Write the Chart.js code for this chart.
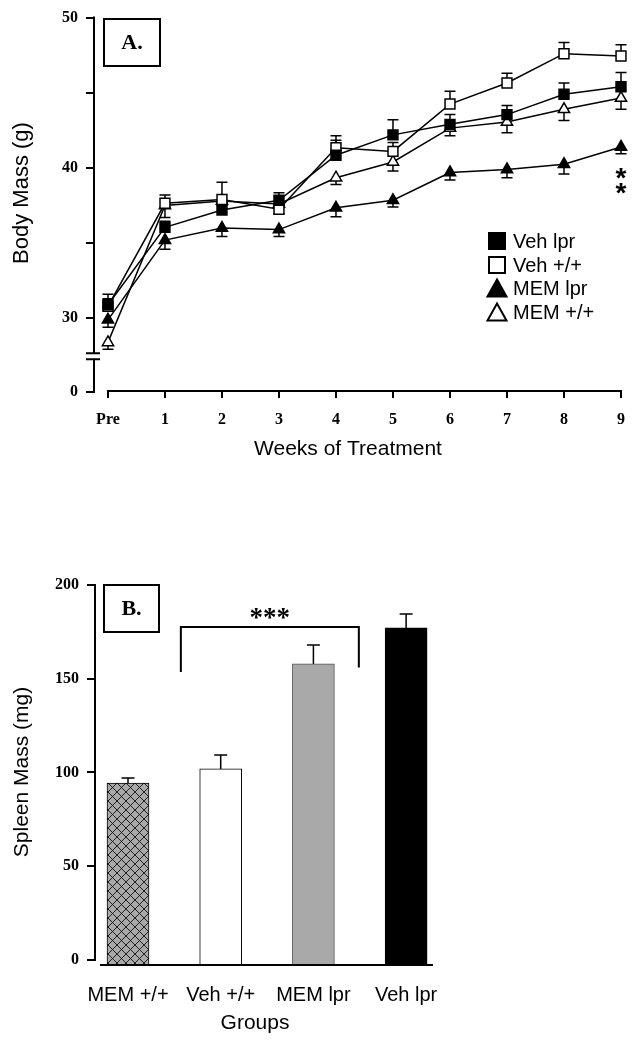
<!DOCTYPE html>
<html><head><meta charset="utf-8">
<script src="https://cdn.jsdelivr.net/npm/chart.js@4.4.0/dist/chart.umd.min.js"></script>
<style>
html,body{margin:0;padding:0;background:#fff;}
body{width:637px;height:1046px;position:relative;overflow:hidden;}
#wA{position:absolute;left:0;top:0;width:637px;height:470px;}
#wB{position:absolute;left:0;top:540px;width:637px;height:506px;}
canvas{display:block;}
</style></head><body>
<div id="wA"><canvas id="cA" width="637" height="470"></canvas></div>
<div id="wB"><canvas id="cB" width="637" height="506"></canvas></div>
<script>
// ---------- Panel A data ----------
const weeks = ["Pre","1","2","3","4","5","6","7","8","9"];
const seriesNames = ["Veh lpr","Veh +/+","MEM lpr","MEM +/+"];
const vehLpr    = [30.9, 36.05, 37.2, 37.85, 40.85, 42.2, 42.9, 43.55, 44.9, 45.4];
const vehLprErr = [0.7, 0.4, 0.5, 0.5, 1.0, 1.0, 0.65, 0.6, 0.75, 0.95];
const vehWt     = [30.8, 37.65, 37.9, 37.25, 41.35, 41.1, 44.25, 45.65, 47.6, 47.45];
const vehWtErr  = [0.5, 0.55, 1.15, 0.4, 0.8, 0.6, 0.85, 0.65, 0.75, 0.75];
const memLpr    = [29.9, 35.2, 36.0, 35.9, 37.35, 37.85, 39.7, 39.9, 40.25, 41.4];
const memLprErr = [0.5, 0.6, 0.55, 0.45, 0.6, 0.45, 0.5, 0.55, 0.65, 0.45];
const memWt     = [28.4, 37.5, 37.8, 37.6, 39.35, 40.4, 42.65, 43.05, 43.9, 44.65];
const memWtErr  = [0.45, 0.8, 0.3, 0.65, 0.45, 0.6, 0.5, 0.7, 0.75, 0.75];
const yTicksA = [30, 35, 40, 45, 50];
const yLabeledA = [30, 40, 50];

// ---------- Panel B data ----------
const groups = ["MEM +/+","Veh +/+","MEM lpr","Veh lpr"];
const spleen = [94.4, 101.9, 157.9, 177.1];
const spleenErr = [2.7, 7.4, 10.1, 7.4];
const yTicksB = [0, 50, 100, 150, 200];

const SERIF = '"Liberation Serif", "Times New Roman", serif';
const SANS = '"Liberation Sans", Arial, sans-serif';

// axis-break geometry (style constants)
const yMinA = 25.1, breakHi = 27.68, breakLo = 27.28;

function pts(arr){ return arr.map((v,i)=>({x:i, y:v})); }

const dsStyle = (filled, shape, r) => ({
  pointStyle: shape, pointRadius: r, pointHoverRadius: r,
  pointBackgroundColor: filled ? '#000' : '#fff',
  pointBorderColor: '#000', pointBorderWidth: 1.5,
  borderColor: '#000', backgroundColor: '#000', borderWidth: 1.5,
  tension: 0, clip: false
});

const errBarsA = {
  id: 'errBarsA',
  beforeDatasetsDraw(chart){
    const ctx = chart.ctx, xs = chart.scales.x, ys = chart.scales.y;
    ctx.save(); ctx.strokeStyle = '#000'; ctx.lineWidth = 1.5;
    chart.data.datasets.forEach(ds => {
      ds.data.forEach((p, i) => {
        const x = xs.getPixelForValue(p.x);
        const y0 = ys.getPixelForValue(p.y);
        const y1 = ys.getPixelForValue(p.y + ds.errDir * ds.err[i]);
        ctx.beginPath(); ctx.moveTo(x, y0); ctx.lineTo(x, y1);
        ctx.moveTo(x - 5.5, y1); ctx.lineTo(x + 5.5, y1); ctx.stroke();
      });
    });
    ctx.restore();
  }
};

function drawMarker(ctx, shape, filled, x, y, s){
  ctx.beginPath();
  if (shape === 'rect') { ctx.rect(x - s/2, y - s/2, s, s); }
  else { const h = s*0.9; ctx.moveTo(x, y - h/2); ctx.lineTo(x + s/2, y + h/2); ctx.lineTo(x - s/2, y + h/2); ctx.closePath(); }
  ctx.fillStyle = filled ? '#000' : '#fff'; ctx.fill();
  ctx.lineWidth = 2; ctx.strokeStyle = '#000'; ctx.stroke();
}

const decoA = {
  id: 'decoA',
  afterDraw(chart){
    const ctx = chart.ctx, xs = chart.scales.x, ys = chart.scales.y, ca = chart.chartArea;
    ctx.save();
    ctx.strokeStyle = '#000'; ctx.lineWidth = 2;
    // y axis with break
    const L = ca.left;
    const yb1 = ys.getPixelForValue(breakHi), yb2 = ys.getPixelForValue(breakLo);
    ctx.beginPath();
    ctx.moveTo(L, ca.top - 1); ctx.lineTo(L, yb1);
    ctx.moveTo(L - 8, yb1); ctx.lineTo(L + 6, yb1);
    ctx.moveTo(L - 8, yb2); ctx.lineTo(L + 6, yb2);
    ctx.moveTo(L, yb2); ctx.lineTo(L, ca.bottom + 1);
    ctx.stroke();
    // x axis
    ctx.beginPath();
    ctx.moveTo(xs.getPixelForValue(0) - 1, ca.bottom - 1);
    ctx.lineTo(xs.getPixelForValue(weeks.length - 1) + 1, ca.bottom - 1);
    ctx.stroke();
    // panel label box
    ctx.lineWidth = 2;
    ctx.strokeRect(104, 19, 56, 47);
    ctx.fillStyle = '#000';
    ctx.font = 'bold 22px ' + SERIF; ctx.textAlign = 'center'; ctx.textBaseline = 'middle';
    ctx.fillText('A.', 132, 43);
    // axis titles
    ctx.font = '21px ' + SANS;
    ctx.fillText('Weeks of Treatment', 348, 449);
    ctx.save(); ctx.translate(22, 193); ctx.rotate(-Math.PI/2);
    ctx.font = '22px ' + SANS; ctx.fillText('Body Mass (g)', 0, 0); ctx.restore();
    // legend
    const rows = [241, 265, 288, 312];
    chart.data.datasets.forEach((ds, i) => {
      const filled = ds.pointBackgroundColor === '#000';
      drawMarker(ctx, ds.pointStyle, filled, 497, rows[i], ds.pointStyle === 'rect' ? 16 : 19);
      ctx.fillStyle = '#000'; ctx.font = '20px ' + SANS; ctx.textAlign = 'left'; ctx.textBaseline = 'middle';
      ctx.fillText(ds.label, 513, rows[i] + 1);
    });
    // significance marks
    ctx.font = 'bold 28px ' + SANS; ctx.textAlign = 'center'; ctx.textBaseline = 'alphabetic';
    const xs9 = xs.getPixelForValue(9);
    ctx.fillText('*', xs9, 173 + 14);
    ctx.fillText('*', xs9, 188 + 14);
    ctx.restore();
  }
};

new Chart(document.getElementById('cA'), {
  type: 'line',
  data: { datasets: [
    Object.assign({label: seriesNames[0], data: pts(vehLpr), err: vehLprErr, errDir: 1}, dsStyle(true, 'rect', 7)),
    Object.assign({label: seriesNames[1], data: pts(vehWt), err: vehWtErr, errDir: 1}, dsStyle(false, 'rect', 7)),
    Object.assign({label: seriesNames[2], data: pts(memLpr), err: memLprErr, errDir: -1}, dsStyle(true, 'triangle', 6.5)),
    Object.assign({label: seriesNames[3], data: pts(memWt), err: memWtErr, errDir: -1}, dsStyle(false, 'triangle', 6.5))
  ]},
  options: {
    responsive: false, animation: false, events: [],
    layout: { padding: { left: 0, right: 15, top: 16, bottom: 0 } },
    plugins: { legend: { display: false }, tooltip: { enabled: false } },
    scales: {
      x: {
        type: 'linear', min: -0.245, max: 9,
        afterBuildTicks: s => { s.ticks = weeks.map((w, i) => ({ value: i })); },
        afterFit: s => { s.height = 78; },
        ticks: { callback: v => weeks[v], autoSkip: false, maxRotation: 0,
                 font: { family: SERIF, weight: 'bold', size: 16 }, color: '#000', padding: 12 },
        grid: { display: true, drawOnChartArea: false, drawTicks: true, tickLength: 6, color: '#000', lineWidth: 2 },
        border: { display: false }
      },
      y: {
        type: 'linear', min: yMinA, max: 50,
        afterBuildTicks: s => { s.ticks = [yMinA].concat(yTicksA).map(v => ({ value: v })); },
        afterFit: s => { s.width = 94; },
        ticks: { callback: v => v === yMinA ? '0' : (yLabeledA.includes(v) ? String(v) : ''),
                 font: { family: SERIF, weight: 'bold', size: 16 }, color: '#000', padding: 8 },
        grid: { display: true, drawOnChartArea: false, drawTicks: true, tickLength: 8, color: '#000', lineWidth: 2 },
        border: { display: false }
      }
    }
  },
  plugins: [errBarsA, decoA]
});

// ---------- Panel B ----------
const cB = document.getElementById('cB');
function hatchPattern(ctx){
  const c = document.createElement('canvas'); c.width = 9; c.height = 9;
  const g = c.getContext('2d');
  g.fillStyle = '#a9a9a9'; g.fillRect(0, 0, 9, 9);
  g.strokeStyle = '#111'; g.lineWidth = 0.9;
  g.beginPath(); g.moveTo(0, 0); g.lineTo(9, 9); g.moveTo(9, 0); g.lineTo(0, 9); g.stroke();
  return ctx.createPattern(c, 'repeat');
}
const yMinB = -2.67;
// significance bracket (data units)
const bracketX = [0.57, 2.49], bracketYTop = 177.6, bracketYEnds = [153.6, 156];

const decoB = {
  id: 'decoB',
  afterDatasetsDraw(chart){
    const ctx = chart.ctx, xs = chart.scales.x, ys = chart.scales.y, ca = chart.chartArea;
    ctx.save(); ctx.strokeStyle = '#000'; ctx.lineWidth = 1.5;
    spleen.forEach((v, i) => {
      const x = xs.getPixelForValue(i), y0 = ys.getPixelForValue(v), y1 = ys.getPixelForValue(v + spleenErr[i]);
      ctx.beginPath(); ctx.moveTo(x, y0); ctx.lineTo(x, y1); ctx.moveTo(x - 6.5, y1); ctx.lineTo(x + 6.5, y1); ctx.stroke();
    });
    ctx.lineWidth = 2;
    // axes
    ctx.beginPath();
    ctx.moveTo(ca.left, ys.getPixelForValue(200) - 1); ctx.lineTo(ca.left, ys.getPixelForValue(0) + 1);
    ctx.moveTo(ca.left + 5, ca.bottom); ctx.lineTo(ca.right, ca.bottom);
    ctx.stroke();
    // bracket
    const bx1 = xs.getPixelForValue(bracketX[0]), bx2 = xs.getPixelForValue(bracketX[1]);
    ctx.beginPath();
    ctx.moveTo(bx1, ys.getPixelForValue(bracketYEnds[0]));
    ctx.lineTo(bx1, ys.getPixelForValue(bracketYTop));
    ctx.lineTo(bx2, ys.getPixelForValue(bracketYTop));
    ctx.lineTo(bx2, ys.getPixelForValue(bracketYEnds[1]));
    ctx.stroke();
    ctx.fillStyle = '#000';
    ctx.font = 'bold 27px ' + SERIF; ctx.textAlign = 'center'; ctx.textBaseline = 'alphabetic';
    ctx.fillText('***', (bx1 + bx2) / 2, 72 + 14);
    // label box
    ctx.strokeRect(104, 45, 55, 47);
    ctx.font = 'bold 22px ' + SERIF; ctx.textBaseline = 'middle';
    ctx.fillText('B.', 131.5, 69);
    // titles
    ctx.font = '21px ' + SANS;
    ctx.fillText('Groups', 255, 483);
    ctx.save(); ctx.translate(22, 232); ctx.rotate(-Math.PI/2);
    ctx.fillText('Spleen Mass (mg)', 0, 0); ctx.restore();
    ctx.restore();
  }
};

new Chart(cB, {
  type: 'bar',
  data: { datasets: [{
    data: spleen.map((v, i) => ({ x: i, y: v })),
    backgroundColor: [hatchPattern(cB.getContext('2d')), '#ffffff', '#a9a9a9', '#000000'],
    borderColor: ['#000', '#000', '#555', '#000'], borderWidth: 1,
    barThickness: 42, base: yMinB
  }]},
  options: {
    responsive: false, animation: false, events: [],
    layout: { padding: { left: 0, right: 204, top: 45, bottom: 0 } },
    plugins: { legend: { display: false }, tooltip: { enabled: false } },
    scales: {
      x: {
        type: 'linear', min: -0.356, max: 3.29, offset: false,
        afterBuildTicks: s => { s.ticks = groups.map((g, i) => ({ value: i })); },
        afterFit: s => { s.height = 81; },
        ticks: { callback: v => groups[v], autoSkip: false, maxRotation: 0,
                 font: { family: SANS, size: 20 }, color: '#000', padding: 10 },
        grid: { display: false }, border: { display: false }
      },
      y: {
        type: 'linear', min: yMinB, max: 200,
        afterBuildTicks: s => { s.ticks = yTicksB.map(v => ({ value: v })); },
        afterFit: s => { s.width = 95; },
        ticks: { font: { family: SERIF, weight: 'bold', size: 16 }, color: '#000', padding: 8 },
        grid: { display: true, drawOnChartArea: false, drawTicks: true, tickLength: 8, color: '#000', lineWidth: 2 },
        border: { display: false }
      }
    }
  },
  plugins: [decoB]
});
</script>
</body></html>
